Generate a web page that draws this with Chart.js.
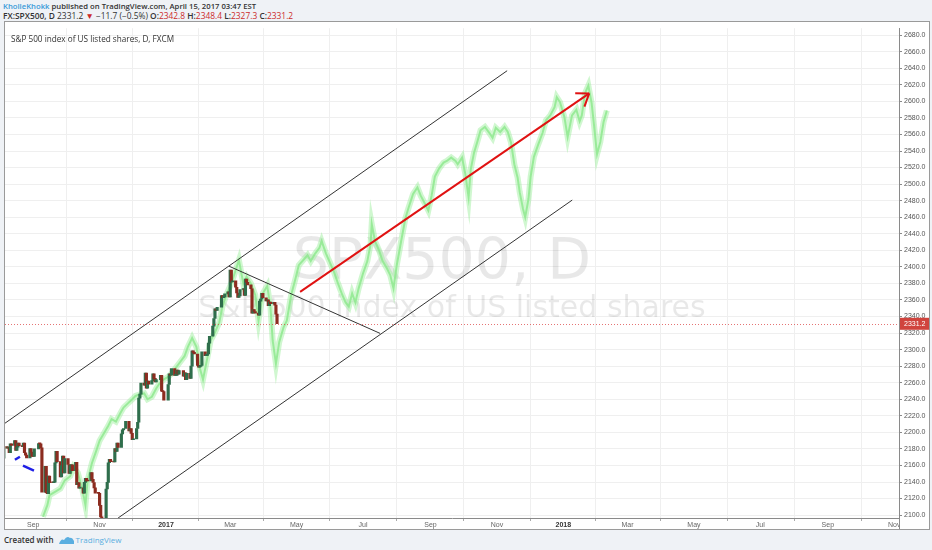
<!DOCTYPE html>
<html>
<head>
<meta charset="utf-8">
<title>SPX500, D</title>
<script src="https://cdn.jsdelivr.net/npm/chart.js@4.4.1/dist/chart.umd.min.js"></script>
<style>
  body { margin:0; width:932px; height:550px; background:#eff2f6; font-family:"Open Sans", "Liberation Sans", Arial, sans-serif; overflow:hidden; position:relative; }
  .hdr { position:absolute; left:3px; font-size:7.7px; font-weight:600; color:#333; white-space:nowrap; line-height:10px; }
  #hdr1 { top:1px; }
  #hdr2 { top:11px; font-size:8.4px; }
  .user { color:#3a9ad9; }
  .red { color:#cc2a2a; }
  .num { font-weight:400; }
  #pane { position:absolute; left:4px; top:21px; width:926px; height:509px; box-sizing:border-box; border:1px solid #9a9a9a; background:#fff; }
  #pane canvas { position:absolute; left:0; top:0; }
  #footer { position:absolute; left:4px; top:535px; font-size:8px; line-height:10px; color:#333; white-space:nowrap; }
  #footer b { font-weight:600; }
  #footer svg { vertical-align:-1px; margin:0 2px 0 5px; }
  #footer .tv { color:#5aaee0; }
</style>
</head>
<body>
<div class="hdr" id="hdr1"><span class="user">KholleKhokk</span> published on TradingView.com, April 15, 2017 03:47 EST</div>
<div class="hdr" id="hdr2">FX:SPX500, D <span class="num">2331.2</span> <span class="red">▼</span> <span class="num">−11.7 (−0.5%)</span> O:<span class="red num">2342.8</span> H:<span class="red num">2348.4</span> L:<span class="red num">2327.3</span> C:<span class="red num">2331.2</span></div>
<div id="pane"><canvas id="grafico" width="924" height="507"></canvas></div>
<div id="footer"><b>Created with</b><svg width="15" height="9" viewBox="0 0 15 9"><path d="M0 9 Q2 3 5 5 Q8 0 11 3 Q13 2 15 6 L15 9 Z" fill="#5aaee0"/></svg><span class="tv">TradingView</span></div>

<script>
// candles (daily closes, open = close of the previous bar)
const candleStart = '2016-08-05';
const candleEnd = '2017-04-13';
const holidays = ['2016-09-05', '2016-11-24', '2016-12-26', '2017-01-02', '2017-01-16', '2017-02-20'];
const firstOpen = 2168.8;
const closes = [
  2182.9, 2180.9, 2181.7, 2175.5, 2186.0, 2184.1, 2190.2, 2178.2, 2182.2, 2187.0, 2183.9, 2182.6, 2186.9, 2175.4, 2172.5, 2169.0, 2180.4, 2176.1, 2171.0,
  2170.9, 2180.0, 2186.5, 2186.2, 2181.3, 2127.8, 2159.0, 2127.0, 2125.8, 2147.3, 2139.2, 2139.1, 2139.8, 2163.1, 2177.2, 2164.7, 2146.1, 2159.9, 2171.4, 2151.1, 2168.3,
  2161.2, 2150.5, 2159.7, 2160.8, 2153.7, 2163.7, 2136.7, 2139.2, 2132.6, 2133.0, 2126.5, 2139.6, 2144.3, 2141.3, 2141.2, 2151.3, 2143.2, 2139.4, 2133.0, 2126.4, 2126.2,
  2111.7, 2097.9, 2088.7, 2085.2, 2131.5, 2139.6, 2163.3, 2167.5, 2164.5, 2164.2, 2180.4, 2177.0, 2187.1, 2181.9, 2198.2, 2202.9, 2204.7, 2213.4, 2201.7, 2204.7, 2198.8,
  2191.1, 2192.0, 2204.7, 2212.2, 2241.4, 2246.2, 2259.5, 2257.0, 2271.7, 2253.3, 2262.0, 2258.1, 2262.5, 2270.8, 2265.2, 2261.0, 2263.8, 2268.9, 2249.9, 2249.3, 2238.8,
  2257.8, 2270.8, 2269.0, 2277.0, 2268.9, 2268.9, 2275.3, 2270.4, 2274.6, 2267.9, 2271.9, 2263.7, 2271.3, 2265.2, 2280.1, 2298.4, 2296.7, 2294.7, 2280.9, 2278.9,
  2279.6, 2280.9, 2297.4, 2292.6, 2293.1, 2294.7, 2307.9, 2316.1, 2328.3, 2337.6, 2349.3, 2347.2, 2351.2, 2365.4, 2362.8, 2363.8, 2367.3, 2369.8, 2363.6,
  2396.0, 2381.9, 2383.1, 2375.3, 2368.4, 2363.0, 2364.9, 2372.6, 2373.5, 2365.5, 2385.3, 2381.4, 2378.3, 2373.5, 2344.0, 2348.5, 2346.0, 2344.0, 2341.6, 2358.6, 2361.1, 2368.1, 2362.7,
  2358.8, 2360.2, 2353.0, 2357.5, 2355.5, 2357.2, 2353.8, 2342.8, 2331.2
];

// green projected pattern (day number since 2016-01-01, price)
const ghostDays = [
  253, 257, 259, 264, 269, 273, 278, 281, 285, 289, 292, 294, 298, 302, 305, 309, 313, 316, 320, 324,
  327, 331, 335, 338, 342, 346, 349, 353, 357, 360, 364, 368, 372, 375, 379, 383, 386, 390, 394, 397,
  400, 404, 407, 411, 415, 418, 422, 426, 429, 433, 437, 440, 444, 448, 451, 455, 459, 462, 464, 467,
  470, 474, 477, 481, 485, 488, 492, 496, 499, 503, 507, 509, 513, 517, 520, 524, 528, 531, 534, 537,
  540, 543, 547, 551, 554, 555, 558, 562, 565, 569, 572, 575, 578, 582, 586, 589, 593, 597, 600, 604,
  607, 610, 613, 617, 621, 624, 628, 632, 634, 638, 641, 644, 646, 649, 652, 655, 659, 663, 666, 669,
  673, 677, 680, 683, 686, 689, 691, 694, 696, 699, 701, 704, 708, 712, 715, 719, 723, 725, 728, 732,
  735, 739, 743, 746, 748, 751, 754, 757, 759, 762, 765, 768, 771
];
const ghostValues = [
  2098, 2112, 2124, 2128, 2132, 2142, 2147, 2158, 2151, 2132, 2112, 2142, 2163, 2178, 2190, 2199, 2208, 2216, 2213, 2223,
  2230, 2235, 2240, 2244, 2246, 2247, 2240, 2243, 2253, 2259, 2264, 2267, 2272, 2278, 2285, 2292, 2303, 2314, 2303, 2278,
  2264, 2290, 2311, 2321, 2333, 2353, 2368, 2380, 2392, 2408, 2380, 2388, 2380, 2366, 2335, 2368, 2377, 2351, 2311, 2283,
  2309, 2327, 2335, 2366, 2386, 2402, 2408, 2414, 2407, 2416, 2423, 2431, 2416, 2404, 2395, 2380, 2366, 2357, 2352, 2368,
  2357, 2374, 2392, 2407, 2428, 2452, 2431, 2419, 2407, 2398, 2390, 2374, 2402, 2431, 2459, 2472, 2488, 2496, 2486, 2476,
  2468, 2486, 2509, 2519, 2526, 2528, 2532, 2528, 2524, 2532, 2512, 2484, 2518, 2538, 2551, 2565, 2569, 2562, 2556, 2568,
  2563, 2569, 2563, 2550, 2524, 2508, 2490, 2470, 2460, 2482, 2509, 2533, 2548, 2562, 2577, 2583, 2593, 2605, 2599, 2581,
  2557, 2583, 2590, 2576, 2583, 2610, 2619, 2598, 2574, 2536, 2551, 2575, 2589
];

// drawings: [day, price] end points
const upperChannel = [[218.0, 2211.0], [679.4, 2637.0]];
const lowerChannel = [[322.0, 2096.5], [739.2, 2480.7]];
const wedgeLine = [[423.9, 2400.8], [562.7, 2319.6]];
const arrowLine = [[489.2, 2369.7], [754.8, 2609.6]];
const blueMark1 = [[227.2, 2166.9], [231.8, 2170.5]];
const blueMark2 = [[234.6, 2159.7], [244.7, 2153.8]];
const lastPrice = 2331.2;

// axes
const xTickDates = ['2016-09-01', '2016-11-01', '2017-01-01', '2017-03-01', '2017-05-01', '2017-07-01', '2017-09-01',
  '2017-11-01', '2018-01-01', '2018-03-01', '2018-05-01', '2018-07-01', '2018-09-01', '2018-11-01'];
const xTickLabels = ['Sep', 'Nov', '2017', 'Mar', 'May', 'Jul', 'Sep', 'Nov', '2018', 'Mar', 'May', 'Jul', 'Sep', 'Nov'];
const yTicks = [2100, 2120, 2140, 2160, 2180, 2200, 2220, 2240, 2260, 2280, 2300, 2320, 2340, 2360, 2380,
  2400, 2420, 2440, 2460, 2480, 2500, 2520, 2540, 2560, 2580, 2600, 2620, 2640, 2660, 2680];

const watermarkTitle = 'SPX500, D';
const watermarkSub = 'S&P 500 index of US listed shares';
const paneTitle = 'S&P 500 index of US listed shares, D, FXCM';

function dayNum(fecha) {
  const [y, m, d] = fecha.split('-').map(Number);
  return (Date.UTC(y, m - 1, d) - Date.UTC(2016, 0, 1)) / 86400000;
}

function tradingDays(desde, hasta, feriados) {
  const dias = [];
  const fin = dayNum(hasta);
  for (let d = dayNum(desde); d <= fin; d++) {
    const fecha = new Date(Date.UTC(2016, 0, 1) + d * 86400000);
    const wd = fecha.getUTCDay();
    const iso = fecha.toISOString().slice(0, 10);
    if (wd !== 0 && wd !== 6 && !feriados.includes(iso)) dias.push(d);
  }
  return dias;
}

const candleDays = tradingDays(candleStart, candleEnd, holidays);
const candleData = closes.map((c, i) => ({ x: candleDays[i], y: [i === 0 ? firstOpen : closes[i - 1], c] }));
const candleColors = candleData.map(({ y }) => y[1] >= y[0] ? '#2f6e4c' : '#8c2c20');
const ghostData = ghostDays.map((d, i) => ({ x: d, y: ghostValues[i] }));
const toPoints = (par) => par.map(([x, y]) => ({ x, y }));

function lineSet(par, color, width, order) {
  return { type: 'line', data: toPoints(par), borderColor: color, borderWidth: width, pointRadius: 0, order, clip: 0 };
}

const watermark = {
  id: 'watermark',
  beforeDatasetsDraw(chart) {
    const { ctx, chartArea: a } = chart;
    const cx = (a.left + a.right) / 2;
    ctx.save();
    ctx.fillStyle = 'rgba(0,0,0,0.09)';
    ctx.textAlign = 'center';
    ctx.textBaseline = 'middle';
    ctx.font = '57px "DejaVu Sans"';
    ctx.fillText(watermarkTitle, cx - 10, a.top + 236);
    ctx.font = '30px "DejaVu Sans"';
    ctx.fillText(watermarkSub, cx, a.top + 281);
    ctx.restore();
  }
};

const extras = {
  id: 'extras',
  afterDatasetsDraw(chart) {
    const { ctx, chartArea: a, scales: { x, y } } = chart;
    // dotted last price line
    const py = Math.round(y.getPixelForValue(lastPrice)) + 0.5;
    ctx.save();
    ctx.strokeStyle = 'rgba(220,70,70,0.75)';
    ctx.lineWidth = 1;
    ctx.setLineDash([1, 2]);
    ctx.beginPath();
    ctx.moveTo(a.left, py);
    ctx.lineTo(a.right, py);
    ctx.stroke();
    ctx.restore();

    // arrow head at the end of the red line
    const [p0, p1] = arrowLine;
    const x0 = x.getPixelForValue(p0[0]), y0 = y.getPixelForValue(p0[1]);
    const x1 = x.getPixelForValue(p1[0]), y1 = y.getPixelForValue(p1[1]);
    const ang = Math.atan2(y0 - y1, x0 - x1);
    ctx.save();
    ctx.strokeStyle = '#e01212';
    ctx.lineWidth = 2;
    ctx.beginPath();
    [0.62, -0.62].forEach(da => {
      ctx.moveTo(x1, y1);
      ctx.lineTo(x1 + 14 * Math.cos(ang + da), y1 + 14 * Math.sin(ang + da));
    });
    ctx.stroke();
    ctx.restore();
  },
  afterDraw(chart) {
    const { ctx, chartArea: a, scales: { y }, width, height } = chart;
    ctx.save();
    // hide the part of the last x label under the price scale
    ctx.fillStyle = '#fff';
    ctx.fillRect(a.right + 1, a.bottom + 1, width - a.right, height - a.bottom);
    ctx.strokeStyle = '#8a8a8a';
    ctx.lineWidth = 1;
    ctx.beginPath();
    ctx.moveTo(a.right + 0.5, a.bottom);
    ctx.lineTo(a.right + 0.5, height);
    ctx.stroke();

    // last price label
    const py = y.getPixelForValue(lastPrice);
    ctx.fillStyle = '#d0443e';
    ctx.fillRect(a.right + 1, py - 6, width - a.right - 1, 12);
    ctx.fillStyle = '#fff';
    ctx.font = '7px "Liberation Sans", Arial';
    ctx.textBaseline = 'middle';
    ctx.fillText(lastPrice.toFixed(1), a.right + 5, py + 0.5);

    // pane title
    ctx.fillStyle = '#333';
    ctx.font = '8.2px "Open Sans"';
    ctx.textBaseline = 'middle';
    ctx.fillText(paneTitle, a.left + 6, a.top + 11);
    ctx.restore();
  }
};

const esAnio = (label) => /^\d{4}$/.test(label);

new Chart(document.getElementById('grafico'), {
  type: 'bar',
  data: {
    datasets: [
      { type: 'line', data: ghostData, borderColor: 'rgba(150,238,150,0.45)', borderWidth: 6, pointRadius: 0, order: 10 },
      { type: 'line', data: ghostData, borderColor: 'rgba(140,232,140,0.8)', borderWidth: 2, pointRadius: 0, order: 9 },
      { type: 'bar', data: candleData, backgroundColor: candleColors, barThickness: 2.5, minBarLength: 1, grouped: false, order: 8 },
      lineSet(upperChannel, '#333', 1, 5),
      lineSet(lowerChannel, '#333', 1, 5),
      lineSet(wedgeLine, '#333', 1, 5),
      lineSet(blueMark1, '#1f1fe6', 2.5, 4),
      lineSet(blueMark2, '#1f1fe6', 2.5, 4),
      lineSet(arrowLine, '#e01212', 2, 3)
    ]
  },
  options: {
    responsive: false,
    animation: false,
    events: [],
    layout: { padding: 0 },
    plugins: { legend: { display: false }, tooltip: { enabled: false } },
    scales: {
      x: {
        type: 'linear',
        min: 218.1,
        max: 1039.4,
        offset: false,
        afterBuildTicks: (s) => { s.ticks = xTickDates.map(f => ({ value: dayNum(f) })); },
        afterFit: (s) => { s.height = 11; },
        ticks: {
          autoSkip: false,
          maxRotation: 0,
          padding: 0,
          callback: (v, i) => xTickLabels[i],
          font: (c) => ({ family: '"Liberation Sans", Arial', size: 7, weight: c.tick && esAnio(c.tick.label) ? 'bold' : 'normal' }),
          color: (c) => c.tick && esAnio(c.tick.label) ? '#333' : '#666'
        },
        grid: { color: '#efefef', tickLength: 3, tickColor: '#aaa' },
        border: { color: '#8a8a8a' }
      },
      y: {
        position: 'right',
        min: 2096.5,
        max: 2688.4,
        afterBuildTicks: (s) => { s.ticks = yTicks.map(v => ({ value: v })); },
        afterFit: (s) => { s.width = 30; },
        ticks: {
          padding: 2,
          callback: (v) => v.toFixed(1),
          font: { family: '"Liberation Sans", Arial', size: 7 },
          color: '#555'
        },
        grid: { color: '#efefef', tickLength: 3, tickColor: '#8a8a8a' },
        border: { color: '#8a8a8a' }
      }
    }
  },
  plugins: [watermark, extras]
});
</script>
</body>
</html>
